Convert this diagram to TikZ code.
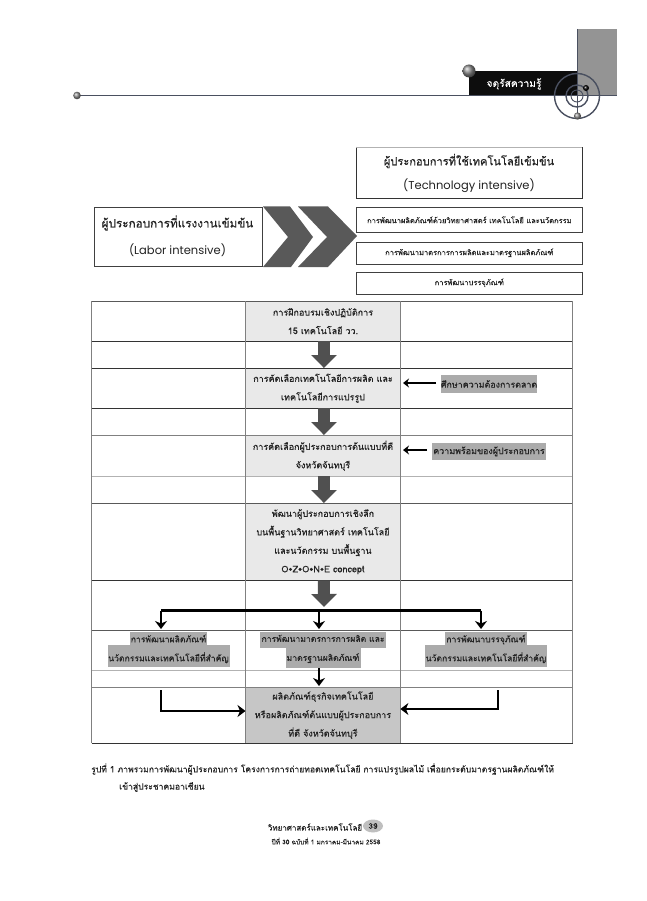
\documentclass[tikz,border=0pt]{standalone}
\usepackage{fontspec}
\setmainfont[Script=Thai,FakeBold=0.35]{Loma}
\newfontfamily\latinhead{Poppins}
\usetikzlibrary{arrows.meta,calc}
\definecolor{inkc}{HTML}{222222}
\definecolor{hdr}{HTML}{4A5060}
\definecolor{cellA}{HTML}{E9E9E9}
\definecolor{cellB}{HTML}{C6C6C6}
\definecolor{hl}{HTML}{ABABAB}
\definecolor{blk}{HTML}{505050}
\tikzset{
 x=1pt,y=-1pt,
 txt/.style={text=inkc,inner sep=0pt,align=center,font=\fontsize{#1}{19}\selectfont},
 txt/.default=8.6,
 box/.style={draw=black!75,line width=.7pt,fill=white,inner sep=0pt,align=center,text=inkc},
 cell/.style={fill=cellA,minimum width=154.5pt,inner sep=0pt,align=center,text=inkc,font=\fontsize{9}{18.5}\selectfont},
 hlbox/.style={fill=hl,inner sep=0pt,text=inkc,font=\fontsize{8.9}{12}\selectfont},
 blockarrow/.style={draw=blk,line width=12pt,-{Triangle[width=25pt,length=13pt]}},
 thinarrow/.style={draw=black,line width=1.3pt,-{Stealth[inset=2pt,length=6pt,width=9pt]}},
 thickarrow/.style={draw=black,line width=2.2pt,-{Stealth[inset=2.5pt,length=8pt,width=12pt]}},
 chev/.style={fill=blk!95,draw=none},
 strong/.style={draw=black!80,line width=.8pt},
 mid/.style={draw=black!50,line width=.7pt},
 faint/.style={draw=black!30,line width=.7pt},
}
\begin{document}
\begin{tikzpicture}
\useasboundingbox (0,0) rectangle (646,901);
% header
\fill[black!42] (578,29) rectangle (617,95);
\fill[black!95] (469,71.5) rectangle (578,96);
\draw[hdr,line width=1.4pt] (77,95.5) -- (617,95.5);
\draw[hdr,line width=1.4pt] (577.5,29) -- (577.5,116);
\draw[hdr,line width=1.4pt] (577,96) circle (22.5);
\draw[hdr,line width=1.4pt] (577,96) circle (11);
\draw[hdr,line width=.9pt] (577,96) circle (6);
\shade[ball color=black!45] (469,71) circle (6.5);
\shade[ball color=black!45] (77,95.5) circle (3.8);
\shade[ball color=black!45] (577.5,116) circle (3.6);
\shade[ball color=black] (586,88) circle (3);
\node[inner sep=0pt,text=white,font=\fontsize{10.2}{12}\selectfont] (hdrlabel) at (514,84) {จตุรัสความรู้};
% top boxes
\node[box,minimum width=168pt,minimum height=59pt,anchor=north west] (labor) at (94,207) {};
\node[txt=11.7] (laborA) at (177.5,223) {ผู้ประกอบการที่แรงงานเข้มข้น};
\node[txt=11.5] (laborB) at (177.5,250) {\latinhead (Labor intensive)};
\fill[chev] (263,206.5)--(290,206.5)--(313,237)--(291,267)--(263,267)--(288,237)--cycle;
\fill[chev] (298,206.5)--(328,206.5)--(357,236)--(328,267)--(298,267)--(327,237)--cycle;
\node[box,minimum width=226pt,minimum height=51pt,anchor=north west,draw=none] (tech) at (356,147) {};
\draw[strong] (356,147) -- (356,198) -- (582,198) -- (582,147);
\draw[faint] (356,147) -- (582,147);
\node[txt=11.1] (techA) at (469,161) {ผู้ประกอบการที่ใช้เทคโนโลยีเข้มข้น};
\node[txt=11.5] (techB) at (469,186) {\latinhead (Technology intensive)};
\node[box,minimum width=226pt,minimum height=25pt,anchor=north west] (r1) at (356,207) {};
\node[txt=7.5] at (r1.center) {การพัฒนาผลิตภัณฑ์ด้วยวิทยาศาสตร์ เทคโนโลยี และนวัตกรรม};
\node[box,minimum width=226pt,minimum height=22pt,anchor=north west] (r2) at (356,241.5) {};
\node[txt=7.5] at (r2.center) {การพัฒนามาตรการการผลิตและมาตรฐานผลิตภัณฑ์};
\node[box,minimum width=226pt,minimum height=22pt,anchor=north west] (r3) at (356,271.5) {};
\node[txt=7.5] at (r3.center) {การพัฒนาบรรจุภัณฑ์};
% center column cells
\node[cell,minimum height=40pt,anchor=north west] (c1) at (245.5,301) {การฝึกอบรมเชิงปฏิบัติการ\\15 เทคโนโลยี วว.};
\node[cell,minimum height=40pt,anchor=north west] (c2) at (245.5,368) {การคัดเลือกเทคโนโลยีการผลิต และ\\เทคโนโลยีการแปรรูป};
\node[cell,minimum height=41pt,anchor=north west] (c3) at (245.5,435) {การคัดเลือกผู้ประกอบการต้นแบบที่ดี\\จังหวัดจันทบุรี};
\node[cell,minimum height=77pt,anchor=north west] (c4) at (245.5,503) {พัฒนาผู้ประกอบการเชิงลึก\\บนพื้นฐานวิทยาศาสตร์ เทคโนโลยี\\และนวัตกรรม บนพื้นฐาน\\O•Z•O•N•E concept};
\node[cell,fill=cellB,minimum height=56pt,anchor=north west] (c5) at (245.5,687) {ผลิตภัณฑ์ธุรกิจเทคโนโลยี\\หรือผลิตภัณฑ์ต้นแบบผู้ประกอบการ\\ที่ดี จังหวัดจันทบุรี};
% table grid
\foreach \yy in {341,368,408,580,743} \draw[strong] (91.5,\yy) -- (572.5,\yy);
\foreach \yy in {301,503,630} \draw[strong,draw=black!65] (91.5,\yy) -- (572.5,\yy);
\foreach \yy in {435,687} \draw[mid] (91.5,\yy) -- (572.5,\yy);
\foreach \yy in {476,670} \draw[faint] (91.5,\yy) -- (572.5,\yy);
\foreach \xx in {91.5,245.5,400,572.5} \draw[mid] (\xx,301) -- (\xx,743);
% highlighted labels
\node[hlbox,minimum width=96pt,minimum height=18pt] (s1) at (489,384) {ศึกษาความต้องการตลาด};
\node[hlbox,minimum width=114pt,minimum height=17pt] (s2) at (489,451.5) {ความพร้อมของผู้ประกอบการ};
\coordinate (s1tail) at (436,383);
\coordinate (s2tail) at (427,450);
\coordinate (c2e) at (403,383);
\coordinate (c3e) at (403,450);
\draw[thinarrow] (s1tail) -- (c2e);
\draw[thinarrow] (s2tail) -- (c3e);
% three columns
\fill[hl] (130,632) rectangle (207,645);
\fill[hl] (108,645) rectangle (230,667);
\fill[hl] (260,632) rectangle (386,648);
\fill[hl] (286,648) rectangle (361,668);
\fill[hl] (445,632) rectangle (527,645);
\fill[hl] (425,645) rectangle (547,667);
\node[txt] (p1) at (168.5,649) {การพัฒนาผลิตภัณฑ์\\นวัตกรรมและเทคโนโลยีที่สำคัญ};
\node[txt] (p2) at (323,649) {การพัฒนามาตรการการผลิต และ\\มาตรฐานผลิตภัณฑ์};
\node[txt] (p3) at (486,649) {การพัฒนาบรรจุภัณฑ์\\นวัตกรรมและเทคโนโลยีที่สำคัญ};
% block arrows
\draw[blockarrow] ($(c1.south)+(1,0)$) -- ($(c2.north)+(1,0)$);
\draw[blockarrow] ($(c2.south)+(1,0)$) -- ($(c3.north)+(1,0)$);
\draw[blockarrow] ($(c3.south)+(1,0)$) -- ($(c4.north)+(1,0)$);
\coordinate (busc) at (324,607);
\draw[blockarrow] ($(c4.south)+(1,0)$) -- (busc);
% distribution bus
\coordinate (busL) at (161,610.5);
\coordinate (busM) at (319,610.5);
\coordinate (busR) at (481,610.5);
\draw[draw=black,line width=2.2pt] (busL) -- (busR);
\draw[thickarrow] (busL) -- (161,629);
\draw[thickarrow] (busM) -- (319,629);
\draw[thickarrow] (busR) -- (481,629);
% into result
\coordinate (p2s) at (319,668);
\coordinate (p1s) at (161,690);
\coordinate (p3s) at (498,690);
\draw[thickarrow] (p2s) -- (319,686);
\draw[thickarrow] (p1s) -- (161,711) -- (c5.west |- 0,711);
\draw[thickarrow] (p3s) -- (498,709) -- (c5.east |- 0,709);
% caption
\node[txt=8.6,anchor=west] (cap1) at (91,769) {รูปที่ 1 ภาพรวมการพัฒนาผู้ประกอบการ โครงการการถ่ายทอดเทคโนโลยี การแปรรูปผลไม้ เพื่อยกระดับมาตรฐานผลิตภัณฑ์ให้};
\node[txt=8.6,anchor=west] (cap2) at (119,787) {เข้าสู่ประชาคมอาเซียน};
% footer
\fill[black!25] (373,826) ellipse (10 and 6.5);
\node[txt=8] (foot1) at (315,827) {วิทยาศาสตร์และเทคโนโลยี};
\node[txt=8] (foot39) at (373,826) {39};
\node[txt=6.5] (foot2) at (326,841) {ปีที่ 30 ฉบับที่ 1 มกราคม-มีนาคม 2558};
\end{tikzpicture}
\end{document}
